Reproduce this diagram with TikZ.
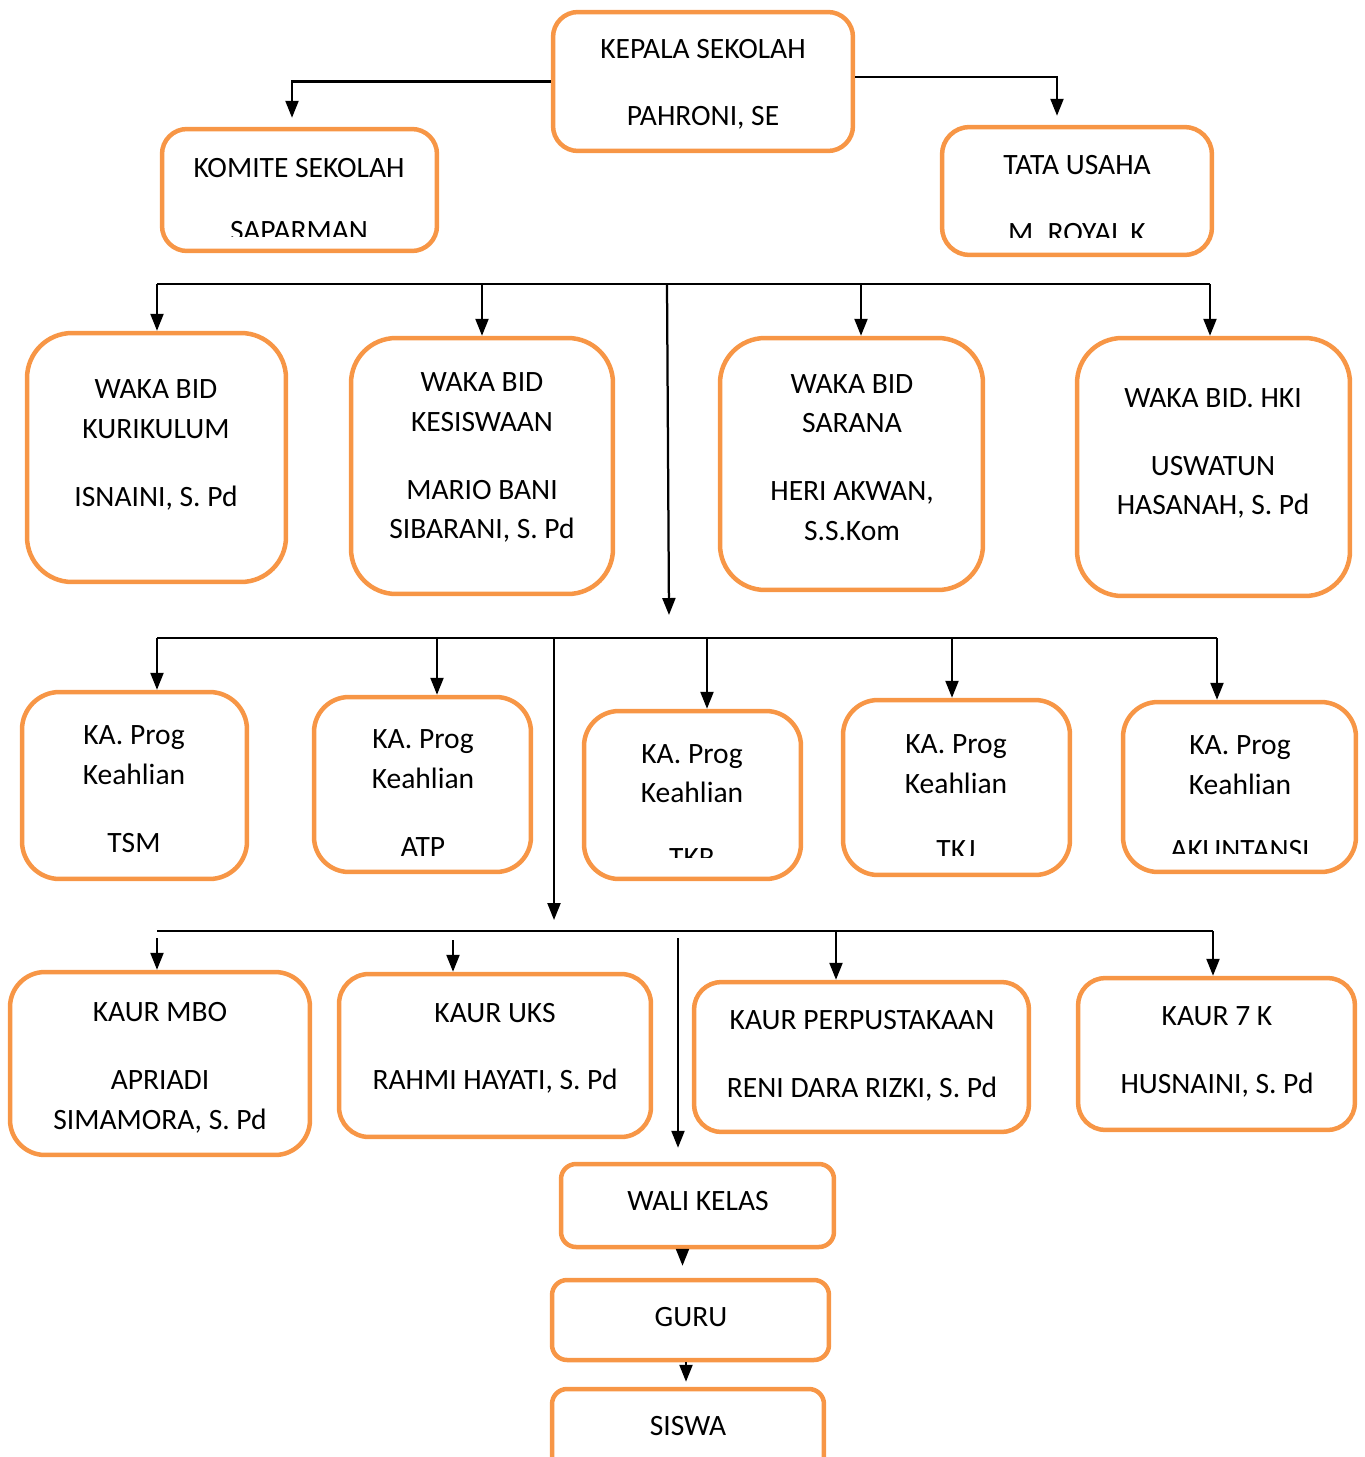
\documentclass[tikz,border=0pt]{standalone}
\usepackage{fontspec}
\setmainfont{Carlito}
\usetikzlibrary{arrows.meta}
\definecolor{boxorange}{HTML}{F79646}
\tikzset{
  orgbox/.style={draw=boxorange, line width=0.09cm, rounded corners=#1, inner sep=0pt},
  orgbox/.default=0.5cm,
  orgtext/.style={font=\fontsize{16.8pt}{22.7pt}\selectfont, align=center, inner sep=0pt, yshift=-0.06cm},
  bus/.style={line width=0.045cm},
  link/.style={line width=0.045cm, -{Triangle[width=0.26cm,length=0.34cm]}}
}
\begin{document}
\begin{tikzpicture}[x=0.02cm, y=-0.02cm]
        \useasboundingbox (0,0) rectangle (1365,1457);
        % boxes
        \node[orgbox=0.5cm, minimum width=6.0cm, minimum height=2.78cm] (kepala) at (703,81.5) {};
        \node[orgbox=0.5cm, minimum width=5.5cm, minimum height=2.44cm] (komite) at (299.5,190) {};
        \node[orgbox=0.55cm, minimum width=5.4cm, minimum height=2.56cm] (tata) at (1077,191) {};
        \node[orgbox=0.9cm, minimum width=5.18cm, minimum height=4.98cm] (kur) at (156.5,457.5) {};
        \node[orgbox=0.9cm, minimum width=5.24cm, minimum height=5.12cm] (kes) at (482,466) {};
        \node[orgbox=0.9cm, minimum width=5.26cm, minimum height=5.04cm] (sar) at (851.5,464) {};
        \node[orgbox=0.9cm, minimum width=5.46cm, minimum height=5.16cm] (hki) at (1213.5,467) {};
        \node[orgbox=0.75cm, minimum width=4.5cm, minimum height=3.74cm] (tsm) at (134.5,785.5) {};
        \node[orgbox=0.7cm, minimum width=4.34cm, minimum height=3.5cm] (atp) at (422.5,784.5) {};
        \node[orgbox=0.7cm, minimum width=4.34cm, minimum height=3.36cm] (tkr) at (692.5,795) {};
        \node[orgbox=0.7cm, minimum width=4.54cm, minimum height=3.5cm] (tkj) at (956.5,787.5) {};
        \node[orgbox=0.7cm, minimum width=4.66cm, minimum height=3.4cm] (akun) at (1239.5,787) {};
        \node[orgbox=0.7cm, minimum width=6.0cm, minimum height=3.66cm] (mbo) at (160,1063.5) {};
        \node[orgbox=0.6cm, minimum width=6.24cm, minimum height=3.26cm] (uks) at (495,1055.5) {};
        \node[orgbox=0.55cm, minimum width=6.7cm, minimum height=3.0cm] (perpus) at (861.5,1057) {};
        \node[orgbox=0.55cm, minimum width=5.54cm, minimum height=3.04cm] (tujuhk) at (1216.5,1054) {};
        \node[orgbox=0.3cm, minimum width=5.46cm, minimum height=1.66cm] (wali) at (697.5,1205.5) {};
        \node[orgbox=0.3cm, minimum width=5.54cm, minimum height=1.6cm] (guru) at (690.5,1320) {};
        \node[orgbox=0.3cm, minimum width=5.44cm, minimum height=1.72cm] (siswa) at (688,1432) {};

        % texts
        \node[orgtext] (kepalat) at (703,81.5) {KEPALA SEKOLAH\\[0.54cm]PAHRONI, SE};
        \begin{scope}
          \clip (150,120) rectangle (450,236);
          \node[orgtext] (komitet) at (299,196.5) {KOMITE SEKOLAH\\[0.46cm]SAPARMAN};
        \end{scope}
        \begin{scope}
          \clip (930,120) rectangle (1225,237);
          \node[orgtext] (tatat) at (1077,196) {TATA USAHA\\[0.56cm]M. ROYAL K};
        \end{scope}
        \node[orgtext] (kurt) at (156,442) {WAKA BID\\KURIKULUM\\[0.56cm]ISNAINI, S. Pd};
        \node[orgtext] (kest) at (482,454.5) {WAKA BID\\KESISWAAN\\[0.56cm]MARIO BANI\\SIBARANI, S. Pd};
        \node[orgtext] (sart) at (852,454.5) {WAKA BID\\SARANA\\[0.56cm]HERI AKWAN,\\S.S.Kom};
        \node[orgtext] (hkit) at (1213,450.5) {WAKA BID. HKI\\[0.56cm]USWATUN\\HASANAH, S. Pd};
        \node[orgtext] (tsmt) at (134,786) {KA. Prog\\Keahlian\\[0.56cm]TSM};
        \node[orgtext] (atpt) at (423,790) {KA. Prog\\Keahlian\\[0.56cm]ATP};
        \begin{scope}
          \clip (580,700) rectangle (805,857);
          \node[orgtext] (tkrt) at (692,803) {KA. Prog\\Keahlian\\[0.5cm]TKR};
        \end{scope}
        \begin{scope}
          \clip (840,690) rectangle (1075,855);
          \node[orgtext] (tkjt) at (956,794) {KA. Prog\\Keahlian\\[0.52cm]TKJ};
        \end{scope}
        \begin{scope}
          \clip (1120,690) rectangle (1360,853);
          \node[orgtext] (akunt) at (1240,795) {KA. Prog\\Keahlian\\[0.5cm]AKUNTANSI};
        \end{scope}
        \node[orgtext] (mbot) at (160,1064.5) {KAUR MBO\\[0.56cm]APRIADI\\SIMAMORA, S. Pd};
        \node[orgtext] (ukst) at (495,1045.5) {KAUR UKS\\[0.54cm]RAHMI HAYATI, S. Pd};
        \node[orgtext] (perpust) at (862,1053) {KAUR PERPUSTAKAAN\\[0.56cm]RENI DARA RIZKI, S. Pd};
        \node[orgtext] (tujuhkt) at (1217,1049) {KAUR 7 K\\[0.56cm]HUSNAINI, S. Pd};
        \node[orgtext] (walit) at (698,1198) {WALI KELAS};
        \node[orgtext] (gurut) at (691,1314) {GURU};
        \node[orgtext] (siswat) at (688,1423) {SISWA};

        % top connectors
        \draw[link, shorten >=0.18cm] (kepala.west) -| ([xshift=-0.15cm]komite.north);
        \draw[link, shorten >=0.18cm] ([yshift=0.09cm]kepala.east) -| ([xshift=-0.4cm]tata.north);

        % first bus
        \coordinate (b1l) at (157,284);
        \coordinate (b1s) at (861,284);
        \coordinate (b1r) at (1210,284);
        \coordinate (b1m) at (667,284);
        \coordinate (d1) at (669,615);
        \draw[bus] (b1l) -- (b1r);
        \draw[link] (b1l) -- (b1l |- kur.north);
        \draw[link] (b1l -| kes.north) -- (kes.north);
        \draw[link] (b1s) -- (b1s |- sar.north);
        \draw[link] (b1r) -- (b1r |- hki.north);
        \draw[link] (b1m) -- (d1);

        % second bus
        \coordinate (b2a) at (157,638);
        \coordinate (b2b) at (437,638);
        \coordinate (b2c) at (707,638);
        \coordinate (b2d) at (952,638);
        \coordinate (b2e) at (1217,638);
        \coordinate (b2m) at (554,638);
        \coordinate (d2) at (554,920);
        \draw[bus] (b2a) -- (b2e);
        \draw[link] (b2a) -- (b2a |- tsm.north);
        \draw[link] (b2b) -- (b2b |- atp.north);
        \draw[link] (b2c) -- (b2c |- tkr.north);
        \draw[link] (b2d) -- (b2d |- tkj.north);
        \draw[link] (b2e) -- (b2e |- akun.north);
        \draw[link] (b2m) -- (d2);

        % third bus
        \coordinate (b3a) at (157,931);
        \coordinate (b3b) at (453,931);
        \coordinate (b3c) at (836,931);
        \coordinate (b3d) at (1213,931);
        \coordinate (b3w) at (678,938);
        \draw[bus] (b3a) -- (b3d);
        \draw[link, shorten <=0.14cm] (b3a) -- (b3a |- mbo.north);
        \draw[link, shorten <=0.18cm] (b3b) -- (b3b |- uks.north);
        \draw[link] (b3c) -- (b3c |- perpus.north);
        \draw[link] (b3d) -- (b3d |- tujuhk.north);
        \draw[link, shorten >=0.28cm] (b3w) -- (b3w |- wali.north);

        % bottom chain
        \draw[link, shorten >=0.24cm] ([xshift=-0.3cm]wali.south) -- ([xshift=-0.3cm]wali.south |- guru.north);
        \draw[link, shorten >=0.1cm] ([xshift=-0.09cm]guru.south) -- ([xshift=-0.09cm]guru.south |- siswa.north);
\end{tikzpicture}
\end{document}
